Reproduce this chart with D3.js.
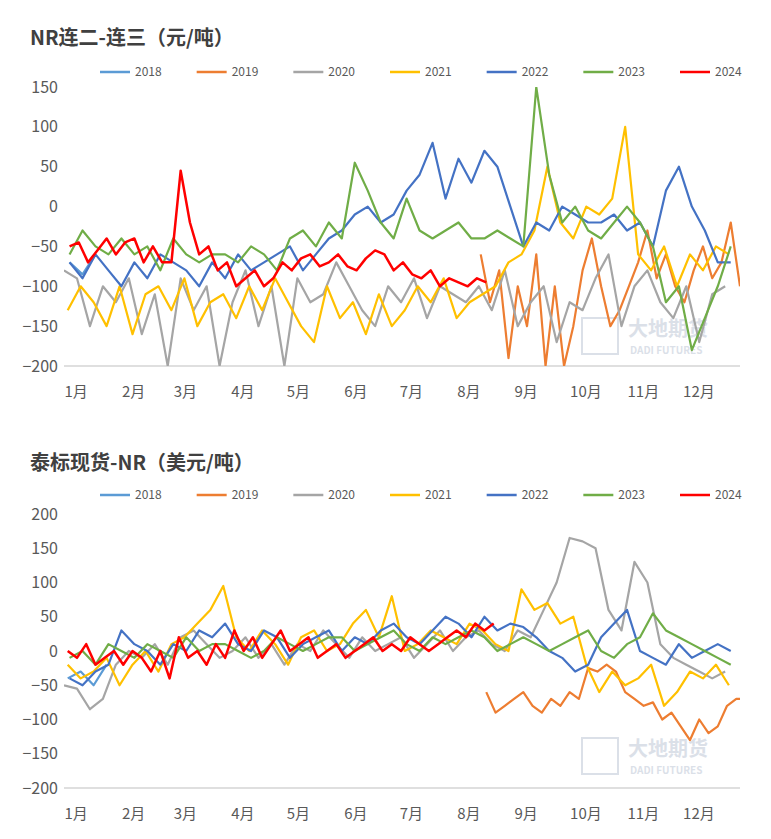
<!DOCTYPE html>
<html><head><meta charset="utf-8">
<script src="https://cdn.jsdelivr.net/npm/d3@7"></script>
<style>body{margin:0;background:#fff}text{font-family:"Microsoft YaHei","Noto Sans CJK SC",sans-serif}</style>
</head><body><svg id="c" width="771" height="839"></svg>
<script>
const years=["2018","2019","2020","2021","2022","2023","2024"];
const colors=["#5B9BD5","#ED7D31","#A5A5A5","#FFC000","#4472C4","#70AD47","#FF0000"];
const months=["1月","2月","3月","4月","5月","6月","7月","8月","9月","10月","11月","12月"];
const monthStarts=[0,31,59,90,120,151,181,212,243,273,304,334];
const topTicks=[150,100,50,0,-50,-100,-150,-200];
const botTicks=[200,150,100,50,0,-50,-100,-150,-200];
// [startDay, stepDays, values]
const top2018=[3,7,[-70,-85,-60]];
const top2019=[225,5,[-60,-120,-80,-190,-100,-150,-60,-200,-100,-200,-150,-80,-40,-100,-150,-130,-100,-70,-30,-90,-60,-100,-120,-80,-50,-90,-70,-20,-100]];
const top2020=[0,7,[-80,-90,-150,-100,-120,-90,-160,-110,-200,-90,-130,-100,-200,-120,-80,-150,-100,-200,-90,-120,-110,-70,-100,-130,-150,-100,-120,-90,-140,-100,-110,-120,-100,-130,-80,-150,-120,-100,-170,-120,-130,-90,-60,-150,-100,-80,-120,-140,-100,-170,-110,-100]];
const top2021=[2,7,[-130,-100,-120,-150,-100,-160,-110,-100,-130,-90,-150,-120,-110,-140,-100,-130,-90,-120,-150,-170,-100,-140,-120,-160,-110,-150,-130,-100,-120,-90,-140,-120,-110,-100,-70,-60,-30,50,-20,-40,0,-10,10,100,-60,-80,-50,-100,-60,-80,-50,-60]];
const top2022=[3,7,[-70,-90,-60,-80,-100,-70,-90,-60,-70,-80,-100,-70,-90,-60,-80,-70,-60,-50,-80,-60,-40,-30,-10,0,-20,-10,20,40,80,10,60,30,70,50,0,-50,-20,-30,0,-10,-20,-20,-10,-30,-20,-50,20,50,0,-30,-70,-70]];
const top2023=[3,7,[-60,-30,-50,-60,-40,-60,-50,-80,-40,-60,-70,-60,-60,-70,-50,-60,-80,-40,-30,-50,-20,-40,55,20,-20,-40,10,-30,-40,-30,-20,-40,-40,-30,-40,-50,150,40,-20,0,-30,-40,-20,0,-20,-50,-120,-100,-180,-140,-100,-50]];
const top2024=[3,5,[-50,-45,-70,-55,-40,-60,-45,-40,-70,-50,-70,-70,45,-20,-60,-50,-80,-70,-100,-90,-80,-100,-90,-70,-80,-65,-60,-75,-70,-60,-75,-80,-65,-55,-60,-80,-70,-85,-90,-80,-100,-90,-95,-100,-90,-95]];
const bot2018=[2,7,[-40,-30,-50,-20]];
const bot2019=[228,5,[-60,-90,-80,-70,-60,-80,-90,-70,-80,-60,-70,-25,-30,-20,-30,-60,-70,-80,-75,-100,-90,-110,-130,-100,-120,-110,-80,-70,-70]];
const bot2020=[0,7,[-50,-55,-85,-70,-20,0,-10,10,-20,20,30,10,-10,0,20,-10,10,-20,10,0,30,10,-10,20,0,10,20,-10,10,30,0,20,30,10,0,30,20,60,100,165,160,150,60,30,130,100,10,-10,-20,-30,-40,-30]];
const bot2021=[2,7,[-20,-40,-30,-10,-50,-20,0,-30,10,20,40,60,95,20,0,30,10,-20,20,30,0,10,40,60,20,80,0,10,30,20,10,40,30,10,0,90,60,70,40,50,-20,-60,-30,-50,-40,-20,-80,-60,-30,-40,-20,-50]];
const bot2022=[3,7,[-40,-50,-30,-20,30,10,0,-20,10,0,30,20,40,10,0,30,20,-10,10,20,30,0,20,10,30,40,20,10,30,50,40,20,50,30,40,35,20,0,-10,-30,-20,20,40,60,0,-10,-20,10,-10,0,10,0]];
const bot2023=[3,7,[-10,0,-20,10,0,-10,10,0,-10,20,0,10,10,0,-10,0,20,10,0,10,20,20,0,10,20,30,10,0,20,10,20,30,20,0,10,20,10,0,10,20,30,0,-10,10,20,55,30,20,10,0,-10,-20]];
const bot2024=[2,5,[0,-10,10,-20,-10,0,-20,0,-10,-30,0,-40,20,-10,0,-20,10,-10,30,0,20,-10,10,30,0,10,20,-10,0,10,-10,0,10,20,0,10,0,20,10,0,10,20,30,20,40,30,40]];

const svg=d3.select("#c");
function chart(id,title,titleY,legendY,y0,y1,dom,ticks,series,wmY){
  svg.append("text").attr("x",30).attr("y",titleY).attr("font-size",20).attr("font-weight","bold").attr("fill","#404040").text(title);
  const x=d3.scaleLinear().domain([0,365]).range([64,740]);
  const y=d3.scaleLinear().domain(dom).range([y1,y0]);
  const wm=svg.append("g").attr("opacity",0.35);
  wm.append("rect").attr("x",582).attr("y",wmY-24).attr("width",36).attr("height",36).attr("fill","none").attr("stroke","#9aa8c0").attr("stroke-width",2);
  wm.append("text").attr("x",628).attr("y",wmY-6).attr("font-size",20).attr("font-weight","bold").attr("fill","#9aa8c0").text("大地期货");
  wm.append("text").attr("x",630).attr("y",wmY+12).attr("font-size",10).attr("font-weight","bold").attr("fill","#9aa8c0").text("DADI FUTURES");
  const ya=svg.append("g").attr("transform","translate(58,0)").call(d3.axisLeft(y).tickValues(ticks).tickSize(0).tickPadding(0));
  ya.select(".domain").remove();
  ya.selectAll("text").attr("font-size",16).attr("fill","#595959").attr("font-family","Arial, Liberation Sans, sans-serif");
  svg.append("line").attr("x1",64).attr("x2",740).attr("y1",y1).attr("y2",y1).attr("stroke","#bfbfbf");
  const xa=svg.append("g").attr("transform",`translate(0,${y1})`).call(d3.axisBottom(x).tickValues(monthStarts).tickFormat((d,i)=>months[i]).tickSize(0).tickPadding(20));
  xa.select(".domain").remove();
  xa.selectAll("text").attr("font-size",15).attr("fill","#595959").attr("text-anchor","start");
  svg.append("clipPath").attr("id",id).append("rect").attr("x",64).attr("y",y0).attr("width",676).attr("height",y1-y0);
  const line=d3.line().x(d=>x(d[0])).y(d=>y(d[1]));
  const g=svg.append("g").attr("clip-path",`url(#${id})`);
  series.forEach((s,i)=>{
    const pts=s[2].map((v,j)=>[s[0]+j*s[1],v]);
    g.append("path").datum(pts).attr("d",line).attr("fill","none").attr("stroke",colors[i]).attr("stroke-width",i==6?2.5:2.2).attr("stroke-linejoin","round");
  });
  const lx=d3.scalePoint().domain(years).range([100,680]);
  years.forEach((yr,i)=>{
    const gx=lx(yr);
    svg.append("line").attr("x1",gx).attr("x2",gx+30).attr("y1",legendY).attr("y2",legendY).attr("stroke",colors[i]).attr("stroke-width",2.5);
    svg.append("text").attr("x",gx+35).attr("y",legendY+4).attr("font-size",12).attr("fill","#595959").attr("font-family","Arial, Liberation Sans, sans-serif").text(yr);
  });
}
chart("cp1","NR连二-连三（元/吨）",45,72,87,366,[-200,150],topTicks,[top2018,top2019,top2020,top2021,top2022,top2023,top2024],342);
chart("cp2","泰标现货-NR（美元/吨）",470,495,514,788,[-200,200],botTicks,[bot2018,bot2019,bot2020,bot2021,bot2022,bot2023,bot2024],762);
</script></body></html>
